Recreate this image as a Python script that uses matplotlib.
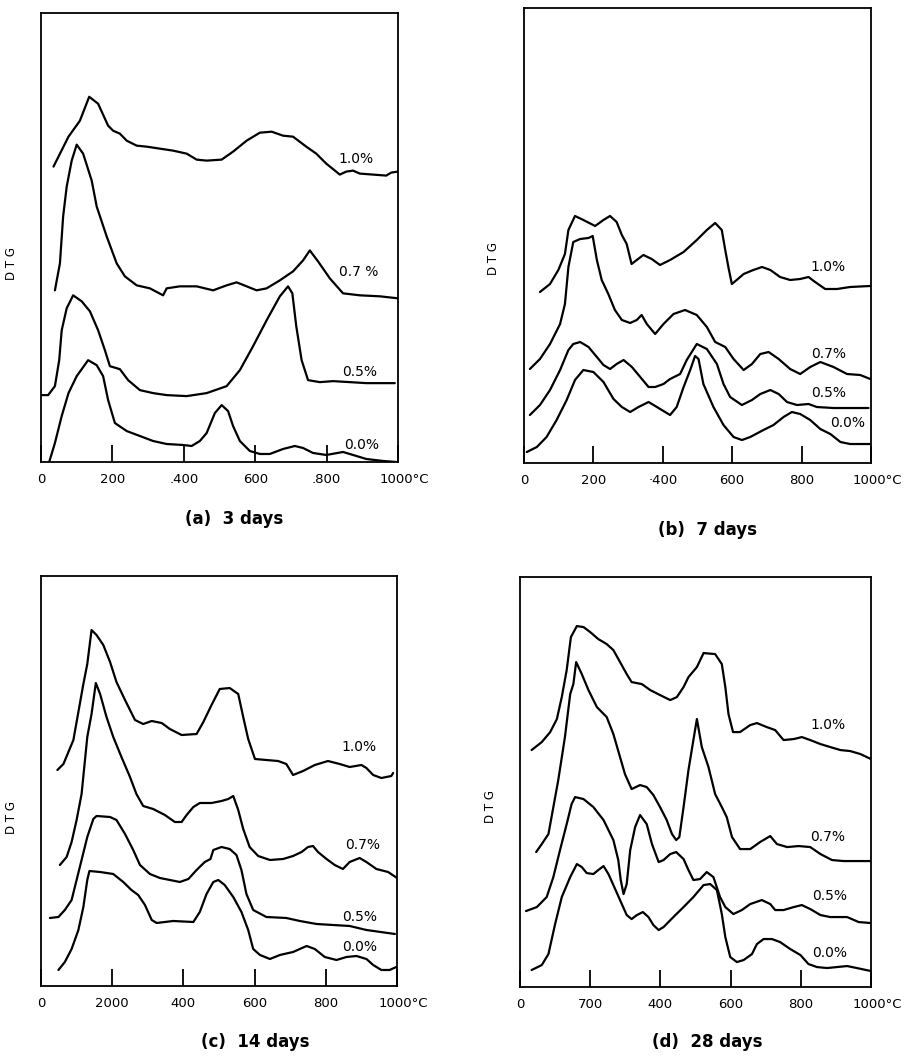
import matplotlib
matplotlib.use("Agg")
import matplotlib.pyplot as plt
from matplotlib.transforms import ScaledTranslation

# DTG curves: temperature (deg C) and DTG (arbitrary units, offset curves)
XTICKS = [0, 200, 400, 600, 800, 1000]
SERIES = ["1.0%", "0.7%", "0.5%", "0.0%"]

# (a) 3 days
a10_t = [35, 77, 109, 135, 160, 188, 202, 221, 240, 268, 296, 333, 370, 408, 436, 464, 506, 538, 576, 613, 646, 678, 706, 743, 771, 799, 837, 855, 874, 893, 930, 967, 981, 1000]
a10_d = [296, 326, 342, 366, 359, 337, 332, 329, 322, 317, 316, 314, 312, 309, 303, 302, 303, 311, 322, 330, 331, 327, 326, 316, 309, 299, 288, 291, 292, 289, 288, 287, 290, 291]
a07_t = [39, 53, 62, 72, 86, 100, 118, 142, 156, 184, 212, 235, 268, 305, 342, 352, 389, 436, 482, 520, 548, 576, 604, 632, 669, 706, 734, 753, 776, 809, 846, 893, 949, 1000]
a07_d = [172, 199, 246, 276, 302, 318, 309, 282, 256, 226, 199, 186, 177, 174, 167, 174, 176, 176, 172, 177, 180, 176, 172, 174, 182, 191, 202, 212, 201, 184, 169, 167, 166, 164]
a05_t = [0, 20, 39, 51, 58, 72, 90, 114, 137, 160, 179, 193, 221, 244, 277, 314, 352, 408, 464, 520, 557, 594, 632, 669, 692, 704, 715, 730, 748, 781, 818, 865, 911, 991]
a05_d = [67, 67, 76, 102, 132, 154, 167, 161, 151, 132, 112, 96, 93, 82, 72, 69, 67, 66, 69, 76, 92, 116, 142, 166, 176, 169, 136, 102, 82, 80, 81, 80, 79, 79]
a00_t = [23, 39, 58, 77, 100, 132, 156, 174, 188, 207, 240, 277, 314, 352, 398, 422, 445, 464, 487, 506, 524, 538, 557, 585, 613, 641, 678, 711, 734, 762, 799, 846, 874, 911, 958, 995]
a00_d = [0, 19, 46, 69, 86, 102, 97, 86, 62, 39, 31, 26, 21, 18, 17, 16, 21, 29, 49, 57, 51, 36, 21, 11, 8, 8, 13, 16, 14, 9, 7, 10, 7, 3, 1, 0]

# (b) 7 days
b10_t = [46, 75, 99, 118, 128, 147, 171, 205, 229, 248, 267, 282, 296, 310, 325, 344, 368, 392, 421, 460, 498, 527, 551, 570, 580, 589, 599, 613, 633, 661, 686, 710, 738, 767, 796, 820, 839, 868, 902, 940, 998]
b10_d = [171, 179, 193, 209, 233, 247, 243, 237, 243, 247, 241, 228, 219, 199, 203, 208, 204, 198, 203, 211, 223, 233, 240, 233, 213, 196, 179, 183, 189, 193, 196, 193, 186, 183, 184, 186, 181, 174, 174, 176, 177]
b07_t = [17, 46, 75, 104, 118, 128, 142, 162, 186, 198, 210, 224, 243, 262, 282, 306, 325, 339, 354, 378, 402, 431, 464, 498, 527, 551, 580, 604, 633, 657, 681, 705, 734, 767, 796, 825, 854, 892, 931, 969, 998]
b07_d = [94, 104, 119, 139, 159, 196, 221, 224, 225, 227, 203, 183, 169, 153, 143, 140, 143, 148, 139, 129, 139, 149, 153, 148, 136, 121, 116, 104, 93, 99, 109, 111, 104, 94, 89, 96, 101, 96, 89, 88, 84]
b05_t = [17, 46, 75, 104, 128, 142, 162, 186, 210, 229, 248, 267, 287, 311, 335, 359, 378, 402, 421, 450, 469, 498, 527, 556, 575, 594, 628, 657, 681, 710, 734, 758, 787, 820, 844, 892, 993]
b05_d = [48, 58, 73, 93, 113, 119, 121, 116, 106, 98, 94, 99, 103, 96, 86, 76, 76, 79, 84, 89, 103, 119, 114, 99, 79, 66, 58, 63, 69, 73, 69, 61, 58, 59, 56, 55, 55]
b00_t = [8, 37, 65, 94, 123, 147, 171, 200, 229, 258, 282, 306, 330, 359, 383, 421, 440, 460, 479, 493, 503, 517, 546, 575, 604, 628, 652, 690, 719, 748, 772, 796, 825, 854, 883, 912, 940, 996]
b00_d = [11, 16, 26, 43, 63, 83, 93, 91, 81, 64, 56, 51, 56, 61, 56, 48, 56, 76, 93, 107, 104, 79, 56, 38, 26, 23, 26, 33, 38, 46, 51, 49, 43, 34, 29, 21, 19, 19]

# (c) 14 days
c10_t = [46, 63, 77, 91, 105, 119, 130, 142, 156, 175, 194, 212, 236, 264, 287, 311, 339, 362, 395, 437, 456, 479, 502, 530, 554, 568, 582, 601, 633, 666, 689, 708, 736, 769, 806, 839, 867, 900, 914, 933, 956, 984, 989]
c10_d = [216, 222, 234, 246, 274, 302, 322, 356, 351, 341, 324, 304, 286, 266, 262, 265, 263, 257, 251, 252, 264, 281, 297, 298, 292, 269, 247, 227, 226, 225, 222, 211, 215, 221, 225, 222, 219, 221, 218, 211, 208, 210, 213]
c07_t = [53, 72, 86, 100, 114, 130, 142, 154, 166, 184, 203, 226, 250, 268, 287, 315, 348, 376, 395, 409, 428, 446, 479, 507, 526, 540, 554, 568, 586, 610, 643, 680, 708, 732, 750, 764, 778, 802, 825, 848, 867, 895, 914, 942, 975, 1000]
c07_d = [121, 129, 144, 166, 192, 249, 272, 303, 292, 269, 249, 229, 209, 192, 180, 177, 171, 164, 164, 171, 179, 183, 183, 185, 187, 190, 176, 157, 139, 130, 126, 127, 130, 134, 139, 140, 134, 127, 121, 117, 124, 128, 124, 117, 114, 108]
c05_t = [25, 49, 67, 86, 100, 114, 130, 147, 156, 194, 212, 236, 259, 278, 306, 334, 362, 390, 414, 437, 460, 476, 484, 507, 530, 549, 563, 577, 596, 633, 689, 727, 774, 820, 867, 914, 994]
c05_d = [68, 69, 76, 86, 106, 126, 149, 167, 170, 169, 166, 152, 136, 121, 112, 108, 106, 104, 107, 116, 124, 127, 136, 139, 137, 131, 116, 92, 76, 69, 68, 65, 62, 61, 60, 56, 52]
c00_t = [49, 67, 86, 105, 119, 130, 136, 166, 203, 231, 254, 273, 292, 311, 325, 371, 428, 446, 465, 484, 498, 516, 540, 563, 582, 596, 615, 643, 671, 708, 746, 769, 797, 830, 858, 886, 914, 933, 956, 979, 998]
c00_d = [16, 24, 37, 56, 79, 106, 115, 114, 112, 104, 96, 91, 81, 66, 63, 65, 64, 74, 92, 104, 106, 101, 89, 74, 56, 37, 31, 27, 31, 34, 40, 37, 29, 26, 29, 30, 27, 21, 16, 16, 19]

# (d) 28 days
d10_t = [33, 62, 86, 105, 119, 133, 145, 162, 181, 200, 223, 247, 266, 285, 304, 318, 347, 371, 399, 428, 447, 466, 480, 504, 523, 556, 575, 585, 594, 607, 627, 656, 675, 703, 727, 751, 780, 803, 827, 856, 884, 913, 941, 970, 1000]
d10_d = [237, 245, 255, 268, 290, 317, 350, 361, 360, 355, 348, 343, 337, 325, 313, 305, 303, 297, 292, 287, 290, 300, 310, 320, 334, 333, 323, 300, 273, 255, 255, 262, 264, 260, 257, 247, 248, 250, 247, 243, 240, 237, 236, 233, 228]
d07_t = [46, 62, 81, 95, 109, 128, 143, 152, 160, 176, 195, 219, 247, 266, 285, 299, 318, 342, 361, 380, 399, 418, 433, 445, 454, 466, 480, 494, 504, 518, 537, 556, 575, 589, 604, 627, 656, 684, 713, 732, 761, 794, 827, 856, 889, 922, 960, 1000]
d07_d = [135, 143, 153, 180, 207, 250, 293, 303, 325, 313, 297, 280, 270, 253, 230, 213, 198, 202, 200, 192, 180, 167, 153, 147, 150, 180, 217, 247, 268, 240, 220, 193, 180, 170, 150, 138, 138, 145, 151, 143, 140, 141, 140, 133, 127, 126, 126, 126]
d05_t = [17, 48, 76, 95, 114, 133, 147, 157, 181, 209, 238, 266, 280, 287, 295, 304, 314, 328, 342, 361, 376, 395, 409, 428, 445, 466, 480, 494, 513, 532, 551, 570, 585, 608, 632, 656, 689, 713, 727, 751, 780, 803, 827, 856, 884, 932, 965, 1000]
d05_d = [76, 80, 90, 110, 137, 163, 183, 190, 188, 180, 167, 147, 127, 107, 93, 103, 137, 160, 172, 163, 143, 125, 127, 133, 135, 128, 117, 107, 108, 115, 110, 90, 80, 73, 77, 83, 87, 83, 77, 77, 80, 82, 78, 72, 70, 70, 65, 64]
d00_t = [33, 62, 81, 100, 119, 143, 162, 176, 190, 209, 223, 238, 252, 266, 285, 304, 318, 333, 350, 366, 380, 395, 409, 437, 466, 494, 523, 542, 561, 575, 585, 599, 618, 637, 661, 675, 694, 718, 741, 770, 799, 822, 846, 875, 903, 932, 960, 1000]
d00_d = [17, 22, 33, 63, 90, 110, 123, 120, 114, 113, 117, 121, 113, 102, 87, 72, 68, 72, 75, 70, 62, 57, 60, 70, 80, 90, 102, 103, 97, 73, 50, 30, 25, 27, 33, 43, 48, 48, 45, 38, 32, 23, 20, 19, 20, 21, 19, 16]

# tick labels as printed in the original figure
a_ticks = ["0", "200", ".400", "600", ".800", "1000°C"]
b_ticks = ["0", "200", "·400", "600", "800", "1000°C"]
c_ticks = ["0", "2000", "400", "600", "800", "1000°C"]
d_ticks = ["0", "700", "400", "600", "800", "1000°C"]

W, H = 905, 1061
fig = plt.figure(figsize=(W / 100, H / 100), dpi=100)


def draw_panel(rect, ytop, curves, ticklabels, label_pos, ylab_pos, caption, cap_px):
    ax = fig.add_axes(rect)
    for t, d in curves:
        ax.plot(t, d, color="black", lw=1.6, solid_joinstyle="round", solid_capstyle="round")
    for name, (x, y) in zip(SERIES, label_pos):
        if name == "0.7%" and caption.startswith("(a)"):
            name = "0.7 %"
        ax.text(x, y, name, ha="center", va="center", fontsize=10)
    ax.set_xlim(0, 1000)
    ax.set_ylim(0, ytop)
    ax.set_yticks([])
    ax.set_xticks(XTICKS)
    ax.set_xticklabels(ticklabels, fontsize=9.5)
    ax.tick_params(axis="x", direction="in", length=12, width=1.3, pad=8)
    last = ax.get_xticklabels()[-1]
    last.set_horizontalalignment("left")
    last.set_transform(last.get_transform() + ScaledTranslation(-0.18, 0, fig.dpi_scale_trans))
    for s in ax.spines.values():
        s.set_linewidth(1.3)
    ax.set_ylabel("D T G", fontsize=8.5)
    ax.yaxis.set_label_coords(*ylab_pos)
    fig.text(cap_px[0] / W, 1 - cap_px[1] / H, caption, ha="center", va="center",
             fontsize=12, fontweight="bold")
    return ax


draw_panel([0.0453, 0.5646, 0.3945, 0.4232], 450,
           [(a10_t, a10_d), (a07_t, a07_d), (a05_t, a05_d), (a00_t, a00_d)], a_ticks,
           [(882, 304), (891, 190), (893, 90), (899, 17)], (-0.064, 0.443),
           "(a)  3 days", (234, 519))
draw_panel([0.579, 0.5636, 0.3834, 0.4289], 455,
           [(b10_t, b10_d), (b07_t, b07_d), (b05_t, b05_d), (b00_t, b00_d)], b_ticks,
           [(876, 196), (879, 109), (879, 70), (934, 40)], (-0.069, 0.45),
           "(b)  7 days", (707, 530))
draw_panel([0.0453, 0.0707, 0.3934, 0.3864], 410,
           [(c10_t, c10_d), (c07_t, c07_d), (c05_t, c05_d), (c00_t, c00_d)], c_ticks,
           [(893, 239), (902, 141), (896, 69), (896, 39)], (-0.065, 0.41),
           "(c)  14 days", (255, 1042))
draw_panel([0.5746, 0.0697, 0.3878, 0.3864], 410,
           [(d10_t, d10_d), (d07_t, d07_d), (d05_t, d05_d), (d00_t, d00_d)], d_ticks,
           [(877, 262), (877, 150), (883, 91), (883, 34)], (-0.066, 0.44),
           "(d)  28 days", (707, 1042))

fig.savefig("out.png", dpi=100)
